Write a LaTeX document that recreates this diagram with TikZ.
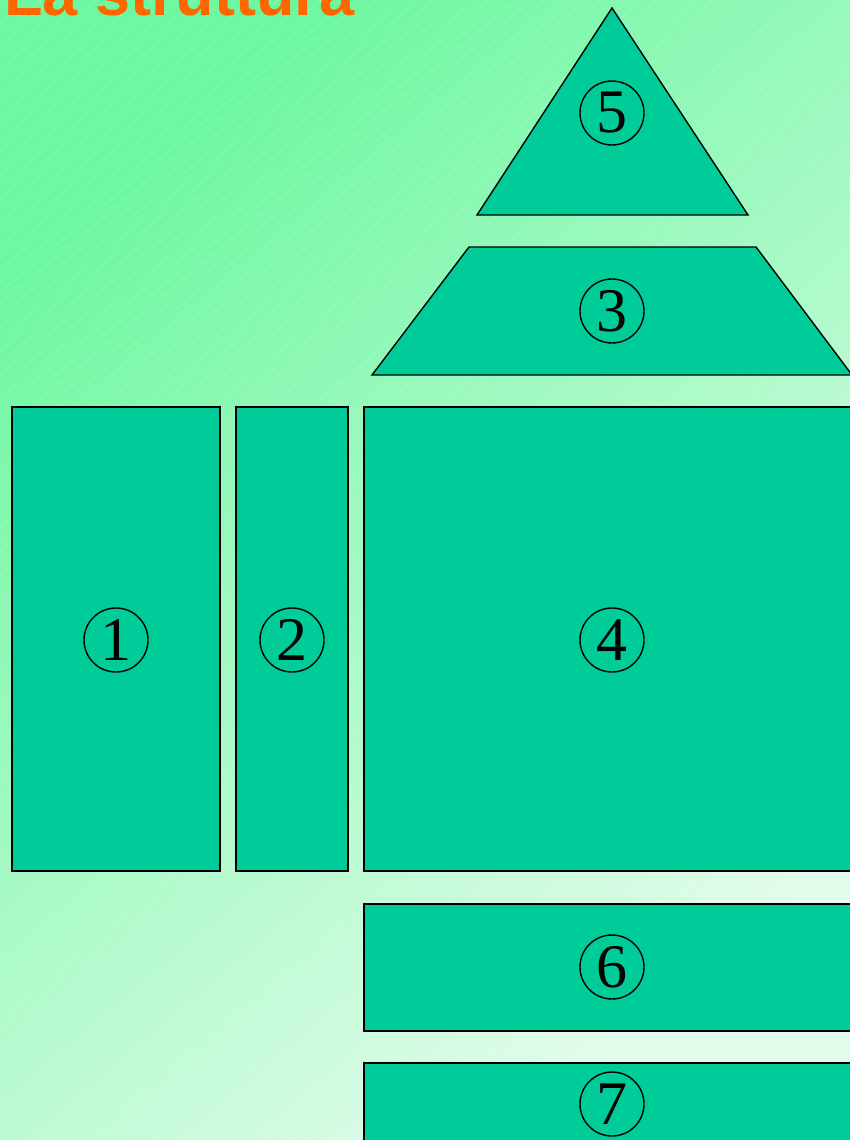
\documentclass[tikz,border=0pt]{standalone}
\usepackage{fontspec}
\setmainfont{Liberation Serif}
\newfontfamily\titlefont{Liberation Sans}
\begin{document}
\begin{tikzpicture}[x=1pt,y=-1pt,
  part/.style={fill=shapegreen,draw=black,line width=1.4pt,line join=miter},
  num/.style={circle,draw=black,line width=1.4pt,inner sep=0pt,minimum size=64pt,font=\fontsize{62}{62}\selectfont},
  hatch/.style={white,opacity=0.2,line width=0.5pt}]
\definecolor{shapegreen}{RGB}{0,204,153}
\definecolor{bgA}{RGB}{108,247,160}
\definecolor{bgB}{RGB}{228,252,236}
\definecolor{titleorange}{RGB}{255,102,0}
\useasboundingbox (0,0) rectangle (850,1140);
\shade[top color=bgA,bottom color=bgB,shading angle=40] (0,0) rectangle (850,1140);
\begin{scope}
\clip (0,0) rectangle (850,1140);
\foreach \i in {-1360,-1346,...,850} {
  \draw[hatch] (\i,1140) -- ++(1359,-1140);
}
\end{scope}
\node[anchor=base west,inner sep=0pt,text=titleorange,font=\titlefont\bfseries\fontsize{63}{63}\selectfont] (title) at (4,16) {La struttura};
% shapes
\draw[part] (612,8) -- (748,215) -- (477,215) -- cycle;
\draw[part] (469,247) -- (756,247) -- (852,375) -- (372,375) -- cycle;
\draw[part] (12,407) rectangle (220,871);
\draw[part] (236,407) rectangle (348,871);
\draw[part] (364,407) rectangle (855,871);
\draw[part] (364,904) rectangle (855,1031);
\draw[part] (364,1063) rectangle (855,1150);
% labels
\node[num] (n5) at (612,113) {5};
\node[num] (n3) at (612,311) {3};
\node[num] (n1) at (116,640) {1};
\node[num] (n2) at (292,640) {2};
\node[num] (n4) at (612,640) {4};
\node[num] (n6) at (612,967) {6};
\node[num] (n7) at (612,1104) {7};
\end{tikzpicture}
\end{document}
